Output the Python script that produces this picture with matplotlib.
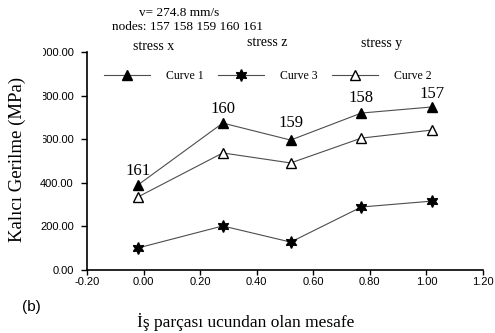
import matplotlib.pyplot as plt
from matplotlib.patches import Rectangle

# distance from workpiece tip, residual stress at nodes 161..157
distance = [-0.02, 0.28, 0.52, 0.77, 1.02]
curve1 = [390, 674, 596, 720, 748]
curve2 = [335, 537, 491, 605, 642]
curve3 = [101, 202, 128, 289, 316]
node_ids = ['161', '160', '159', '158', '157']
label_offsets = [10, 10, 12, 11, 9]

xticks = [-0.2, 0.0, 0.2, 0.4, 0.6, 0.8, 1.0, 1.2]
yticks = [0, 200, 400, 600, 800, 1000]

serif = 'Liberation Serif'
sans = 'Liberation Sans'

fig = plt.figure(figsize=(4.95, 3.33), dpi=100)
ax = fig.add_axes([87/495, 1-270/333, 396/495, 218/333])

line_kw = dict(color='0.3', linewidth=0.8, markeredgecolor='black')
h1, = ax.plot(distance, curve1, marker='^', markersize=6.5, markerfacecolor='black',
              label='Curve 1', **line_kw)
h3, = ax.plot(distance, curve3, marker=(6, 1, 0), markersize=8.5, markerfacecolor='black',
              label='Curve 3', **line_kw)
h2, = ax.plot(distance, curve2, marker='^', markersize=7.5, markerfacecolor='white',
              label='Curve 2', **line_kw)

for x, y, t, off in zip(distance, curve1, node_ids, label_offsets):
    ax.annotate(t, xy=(x, y), xytext=(0, off), textcoords='offset points',
                ha='center', va='center', fontsize=12, family=serif)

ax.set_xlim(-0.2, 1.2)
ax.set_ylim(0, 1000)
ax.set_xticks(xticks)
ax.set_yticks(yticks)
ax.set_xticklabels(['%.2f' % v for v in xticks], fontsize=8, family=sans)
ax.set_yticklabels(['%.2f' % v for v in yticks], fontsize=8, family=sans)
ax.tick_params(axis='x', direction='out', length=3.5, width=1, pad=1.5)
ax.tick_params(axis='y', direction='out', length=4, width=1, pad=5.5)
ax.spines['top'].set_visible(False)
ax.spines['right'].set_visible(False)
ax.spines['left'].set_linewidth(1.2)
ax.spines['bottom'].set_linewidth(1.2)

ax.set_ylabel('Kalıcı Gerilme (MPa)', fontsize=13.5, family=serif)
ax.yaxis.set_label_coords((17-87)/396, 0.505)
ax.yaxis.label.set_va('center')
ax.set_xlabel('İş parçası ucundan olan mesafe', fontsize=12.5, family=serif)
ax.xaxis.set_label_coords((246-87)/396, (270-322)/218)
ax.xaxis.label.set_va('center')

ax.legend(handles=[h1, h3, h2], loc='center left', bbox_to_anchor=(104/495, 1-76/333),
          bbox_transform=fig.transFigure, ncol=3, frameon=False, borderpad=0,
          borderaxespad=0, handlelength=3.9, handletextpad=1.35, columnspacing=1.2,
          prop={'family': serif, 'size': 8.5})

# pasted-over margin that hides the leading digits of the upper tick labels
fig.add_artist(Rectangle((25/495, 1-150/333), 18/495, 110/333,
                         transform=fig.transFigure, facecolor='white',
                         edgecolor='none', zorder=5))

fig.text(179/495, 1-13/333, 'v= 274.8 mm/s', ha='center', va='center',
         fontsize=9.5, family=serif)
fig.text(187/495, 1-27/333, 'nodes: 157 158 159 160 161', ha='center', va='center',
         fontsize=9.5, family=serif)
fig.text(154/495, 1-47/333, 'stress x', ha='center', va='center', fontsize=10, family=serif)
fig.text(267/495, 1-43/333, 'stress z', ha='center', va='center', fontsize=10, family=serif)
fig.text(382/495, 1-43/333, 'stress y', ha='center', va='center', fontsize=10, family=serif)
fig.text(31/495, 1-307/333, '(b)', ha='center', va='center', fontsize=11, family=sans)

fig.savefig('out.png', dpi=100)
